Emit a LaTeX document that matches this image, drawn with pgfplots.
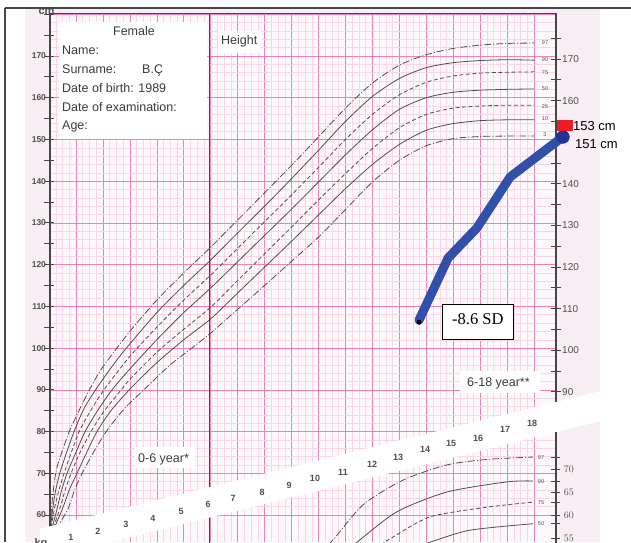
\documentclass[border=0pt]{standalone}
\usepackage{fontspec}
\setmainfont{Liberation Sans}
\newfontfamily\timesfont{Liberation Serif}
\usepackage{pgfplots}
\pgfplotsset{compat=1.18}
\definecolor{pinkmaj}{RGB}{241,128,182}
\definecolor{pinkmin}{RGB}{250,214,229}
\definecolor{chartbg}{RGB}{253,248,251}
\definecolor{bgpink}{RGB}{249,238,243}
\definecolor{curvegray}{RGB}{80,80,80}
\definecolor{axisgray}{RGB}{70,70,70}
\definecolor{labgray}{RGB}{80,80,80}
\definecolor{txtgray}{RGB}{60,60,60}
\definecolor{pblue}{RGB}{48,80,170}
\definecolor{dblue}{RGB}{35,50,150}
\definecolor{pred}{RGB}{235,28,36}
\newcommand{\fs}[1]{\fontsize{#1}{#1}\selectfont}
\tikzset{
  pcurve/.style={curvegray, line width=0.8pt, smooth, tension=0.45},
  dashdotc/.style={dash pattern=on 7pt off 2pt on 1pt off 2pt},
  dashedc/.style={dash pattern=on 4pt off 2.5pt},
}
\begin{document}
\begin{tikzpicture}
\begin{scope}[x=1pt,y=-1pt,yshift=542pt]
\fill[white] (0,0) rectangle (631,542);
\fill[bgpink] (25,9) rectangle (600,542);
\end{scope}

\begin{axis}[
  at={(49pt,0pt)}, anchor=south west,
  x=26.95pt, y=4.173pt,
  xmin=0, xmax=18.81, ymin=53.53, ymax=180.2,
  clip=false,
  axis background/.style={fill=chartbg},
  axis line style={draw=none},
  xtick={0,...,18}, minor x tick num=3, xticklabels={},
  ytick={60,70,...,180},
  yticklabels={60,70,80,90,100,110,120,130,140,150,160,170,{}},
  minor y tick num=4,
  extra y ticks={55,65,...,175}, extra y tick labels={},
  extra y tick style={grid=none},
  grid=both,
  major grid style={pinkmaj, line width=0.6pt},
  minor grid style={pinkmin, line width=0.45pt},
  ytick pos=left, tick align=center,
  major tick length=9pt, minor tick length=0pt,
  xtick style={draw=none},
  ytick style={axisgray, line width=0.8pt},
  yticklabel style={font=\fs{8.5}\bfseries, text=labgray, xshift=5pt},
]
% P97
\addplot[pcurve, dashdotc] coordinates {(0,54) (0.1,62) (0.2,68) (0.3,71.5) (0.5,75.5) (0.75,80) (1,83.5) (1.5,90) (2,95.5) (3,104) (4,111.5) (5,118) (6,124.2) (7,130.7) (8,137.2) (9,143.8) (10,150.6) (11,157.5) (12,163.5) (13,167.8) (14,170.3) (15,171.8) (16,172.6) (17,173) (18,173.1)};
% P90
\addplot[pcurve] coordinates {(0,54) (0.15,62) (0.25,66) (0.4,70) (0.6,74) (0.93,80) (1.3,85.5) (1.78,90.5) (2.5,97) (3,101) (4,108.5) (5,115) (6,121.1) (7,127.6) (8,134) (9,140.6) (10,147.4) (11,154.3) (12,160.3) (13,164.6) (14,167.2) (15,168.4) (16,168.9) (17,169.1) (18,169.0)};
% P75
\addplot[pcurve, dashedc] coordinates {(0,54) (0.2,61.5) (0.35,65.5) (0.56,70) (0.8,74.5) (1.12,80) (1.5,84.5) (2.04,90) (3,98) (4,105) (5,111.5) (6,117.5) (7,123.9) (8,130.3) (9,136.7) (10,143.3) (11,150) (12,156) (13,160.7) (14,163.7) (15,165.2) (16,165.9) (17,166.1) (18,166.2)};
% P50
\addplot[pcurve] coordinates {(0,54) (0.3,61.5) (0.45,65.5) (0.67,70) (1,75) (1.34,80) (1.8,85) (2.34,90) (3,95) (4,102) (5,108.5) (6,114.4) (7,120.7) (8,127) (9,133.3) (10,139.8) (11,146.3) (12,152.3) (13,157.2) (14,160) (15,161.3) (16,161.8) (17,162) (18,162.1)};
% P25
\addplot[pcurve, dashedc] coordinates {(0,54) (0.4,61.5) (0.6,66) (0.82,70) (1.15,75) (1.56,80) (2,84.5) (2.68,90) (3,92.5) (4,99) (5,104.5) (6,109.8) (7,116.2) (8,122.6) (9,129) (10,135.5) (11,141.8) (12,147.8) (13,152.8) (14,156) (15,157.5) (16,158) (17,158.2) (18,158.2)};
% P10
\addplot[pcurve] coordinates {(0,54) (0.5,61.5) (0.75,66) (1.04,70) (1.4,75) (1.78,80) (2.3,85) (3.05,90.5) (4,96.5) (5,102) (6,107) (7,113.2) (8,119.4) (9,125.6) (10,131.9) (11,138.2) (12,144) (13,148.8) (14,152.2) (15,153.8) (16,154.5) (17,154.7) (18,154.7)};
% P3
\addplot[pcurve, dashdotc] coordinates {(0,54) (0.67,61) (0.95,66) (1.23,70) (1.65,75) (2.12,80) (2.8,85.5) (3.6,90.5) (4.5,96) (5.3,100) (6,103.6) (7,109.3) (8,115) (9,120.8) (10,126.6) (11,133.2) (12,139.8) (13,145) (14,148.5) (15,150.2) (16,150.7) (17,150.8) (18,150.8)};
\end{axis}

\begin{scope}[x=1pt,y=-1pt,yshift=542pt]
% dark chart lines
\draw[axisgray, line width=1.3pt] (50,13.5) -- (50,545);
\draw[axisgray, line width=1.3pt] (209.5,13.5) -- (209.5,545);
\draw[axisgray, line width=1.3pt] (556,13.5) -- (556,545);
\draw[axisgray, line width=1.1pt] (50,13.5) -- (556,13.5);
% white band with ages
\fill[white] (40,528.8) -- (600,391.2) -- (600,421.2) -- (40,559.5) -- cycle;
\foreach \n/\x/\y in {1/71/537,2/98/531,3/126/524,4/153/518,5/181/511,6/208/504,7/233/498,8/262/492,9/289/485,10/315/478,11/343/472,12/372/464,13/398/457,14/425/449,15/451/443,16/478/438,17/505/429,18/532/423}
  \node[font=\fs{9}\bfseries, text=labgray] at (\x,\y) {\n};
% frame
\node[anchor=base west, font=\fs{11}\bfseries, text=labgray] at (35,15) {cm};
\node[anchor=base west, font=\fs{11}\bfseries, text=labgray] at (31,546) {kg};
\draw[axisgray, line width=1.2pt] (5,8) -- (631,8);
\draw[axisgray, line width=1.2pt] (5,8) -- (5,542);
% right height scale
\foreach \h in {90,95,...,175}
  \draw[axisgray, line width=0.8pt] (551,{59+(170-\h)*4.16}) -- (561,{59+(170-\h)*4.16});
\foreach \h in {90,100,110,120,130,140,160,170}
  \node[anchor=west, font=\fs{10}, text=labgray, inner sep=0pt] at (562,{59+(170-\h)*4.16}) {\h};
% percentile labels
\foreach \p/\y in {97/43,90/60,75/73,50/89,25/107,10/119,3/135}
  \node[font=\fs{5.5}, text=labgray, inner sep=0pt] at (545,\y) {\p};
\foreach \p/\y in {97/458,90/482,75/503,50/524}
  \node[font=\fs{5.5}, text=labgray, inner sep=0pt] at (541,\y) {\p};
% info box
\fill[white] (59,22) rectangle (207,139);
\node[anchor=base, font=\fs{12.5}, text=txtgray, inner sep=0pt] at (134,36) {Female};
\node[anchor=base west, font=\fs{12.5}, text=txtgray, inner sep=0pt] at (62,55) {Name:};
\node[anchor=base west, font=\fs{12.5}, text=txtgray, inner sep=0pt] at (62,74) {Surname:};
\node[anchor=base west, font=\fs{12.5}, text=txtgray, inner sep=0pt] at (142,74) {B.Ç};
\node[anchor=base west, font=\fs{12.5}, text=txtgray, inner sep=0pt] at (62,93) {Date of birth: 1989};
\node[anchor=base west, font=\fs{12.5}, text=txtgray, inner sep=0pt] at (62,111) {Date of examination:};
\node[anchor=base west, font=\fs{12.5}, text=txtgray, inner sep=0pt] at (62,129) {Age:};
% other boxes
\fill[white] (218,31) rectangle (261,53);
\node[anchor=base west, font=\fs{12.5}, text=txtgray, inner sep=0pt] at (221,44.5) {Height};
\fill[white] (135,447) rectangle (195,468);
\node[anchor=base west, font=\fs{12.5}, text=txtgray, inner sep=0pt] at (138,462) {0-6 year*};
\fill[white] (460,371) rectangle (540,393);
\node[anchor=base west, font=\fs{12.5}, text=txtgray, inner sep=0pt] at (467,386) {6-18 year**};
\draw[black, line width=0.8pt, fill=white] (442,304) rectangle (513,339);
\node[anchor=base west, font=\timesfont\fs{16.5}, inner sep=0pt] at (452,324) {-8.6 SD};
\end{scope}

\begin{axis}[
  at={(49pt,0pt)}, anchor=south west,
  x=26.95pt, y=4.6pt,
  xmin=0, xmax=18.81, ymin=54.13, ymax=78.04,
  clip=false,
  axis x line=none, axis y line*=right,
  axis line style={axisgray, line width=1.3pt, -},
  ytick={55,60,65,70},
  extra y ticks={72.6,67.4,62.8,58.1}, extra y tick labels={},
  tick align=center, major tick length=9pt,
  ytick style={axisgray, line width=0.8pt},
  yticklabel style={font=\fs{10}, text=labgray},
]
\addplot[pcurve, dashdotc] coordinates {(10.0,52) (10.54,54.6) (11.65,62.2) (13.14,67.6) (14.77,70.9) (16.3,72.1) (17.96,72.6)};
\addplot[pcurve] coordinates {(11.0,52) (11.43,54.1) (12.91,60.7) (14.77,65.0) (16.99,67.2) (17.96,67.4)};
\addplot[pcurve, dashedc] coordinates {(12.3,53.5) (12.76,55.2) (14.14,59.6) (16.25,61.7) (17.96,62.8)};
\addplot[pcurve] coordinates {(13.8,53.5) (14.14,54.1) (15.62,56.7) (17.96,58.1)};
\end{axis}

\begin{axis}[
  at={(49pt,0pt)}, anchor=south west,
  x=26.95pt, y=4.173pt,
  xmin=0, xmax=18.81, ymin=53.53, ymax=180.2,
  clip=false, hide axis,
]
\addplot[pblue, line width=9pt, line cap=round, line join=round] coordinates {(13.73,106.7) (14.81,121.6) (15.88,128.8) (17.11,141.0) (18.96,150.1)};
\addplot[only marks, mark=*, mark size=2.2pt, black] coordinates {(13.73,106.2)};
\addplot[only marks, mark=*, mark size=6.5pt, dblue] coordinates {(19.07,150.6)};
\addplot[only marks, mark=square*, mark size=5pt, pred, mark options={xscale=1.5}] coordinates {(19.13,153.5)};
\end{axis}

\begin{scope}[x=1pt,y=-1pt,yshift=542pt]
\node[anchor=base west, font=\fs{13}, inner sep=0pt] at (573,131) {153 cm};
\node[anchor=base west, font=\fs{13}, inner sep=0pt] at (575,148.3) {151 cm};
\end{scope}

\pgfresetboundingbox
\useasboundingbox (0,0) rectangle (631pt,542pt);
\end{tikzpicture}
\end{document}
